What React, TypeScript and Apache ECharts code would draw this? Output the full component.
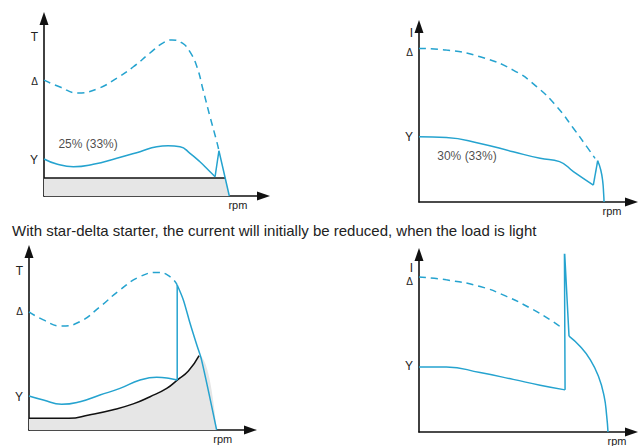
import React, { useEffect, useRef } from 'react';
import * as echarts from 'echarts';

// ---------- Data (normalised units: 0..100 along each axis) ----------
// Panel 1: torque, light load
const p1DeltaTorque = [[0, 63], [7.1, 59.2], [15, 56], [23.5, 58.2], [32.3, 64.1], [39.4, 70.1], [46.9, 77.7], [52.7, 83.2], [56.6, 84.8], [61.1, 83.2], [64.6, 78.3], [67.7, 70.1], [70.4, 57.6], [73.5, 42.9], [76.5, 29.3], [77.4, 24.6]];
const p1StarTorque = [[0, 20.1], [5.6, 17.4], [13, 15.9], [21.8, 17.2], [32.2, 20.5], [42.5, 24.1], [49.9, 26.8], [54.9, 27.3], [60.2, 26.8], [64.6, 23.2], [69, 18.6], [72.7, 14.1], [75.7, 10.5]];
const p1Switch = [[75.7, 10.5], [77.4, 24.6], [82, 0]];
const p1Load = [[0, 9.8], [80.2, 9.8]];
const p1LoadArea = [[0, 9.8], [80.2, 9.8], [82, 0]];
const p1Note = '25% (33%)';
const p1NotePos = [[19.5, 28.3]];

// Panel 2: current, light load
const p2DeltaCurrent = [[0, 84.4], [12.5, 83.5], [27.9, 79.8], [43, 72.5], [53.7, 63.4], [62.9, 52.4], [70.5, 40.5], [76.6, 30.4], [80.4, 24]];
const p2StarCurrent = [[0, 35.9], [12.5, 35.5], [27.9, 32.2], [43, 27.6], [55.3, 24], [64.2, 22.2], [70.5, 16.7], [79.6, 9.3]];
const p2Switch = [[79.6, 9.3], [81.6, 22.7]];
const p2After = [[81.6, 22.7], [83, 17.6], [83.9, 11.2], [84.3, 4.8], [84.5, 0]];
const p2Note = '30% (33%)';
const p2NotePos = [[21.9, 25.3]];

// Panel 3: torque, heavier load
const p3DeltaTorque = [[0, 63.9], [6.3, 59.5], [14.3, 56.2], [22.4, 58.6], [31.1, 66.6], [39.9, 75.7], [48.7, 82.9], [56.7, 85.2], [61.8, 82.9], [65, 78.4]];
const p3StarTorque = [[0, 18.4], [6.3, 16.2], [14.3, 13.9], [22.4, 15.3], [31.1, 18.9], [39.9, 22.5], [48.7, 27], [56, 28.5], [61.8, 27.9], [65, 27]];
const p3Switch = [[65, 27], [65, 78.4]];
const p3After = [[65, 78.4], [67.7, 70.3], [70.6, 57.8], [73.6, 45.9], [75.7, 37.8], [82.3, 0]];
const p3Load = [[0, 6.3], [17.5, 6.3], [26.3, 8.1], [36.5, 10.8], [45.7, 14.1], [53.1, 18], [60.4, 22.5], [65, 27], [69.9, 31.9], [74.6, 40.2]];
const p3LoadArea = [...p3Load, [82.3, 0]];

// Panel 4: current, heavier load
const p4DeltaCurrent = [[0, 84.2], [12.5, 82.7], [27.9, 79.1], [40, 73.7], [50.7, 67.4], [59.8, 61.1], [65.2, 56.6]];
const p4StarCurrent = [[0, 35.3], [12.5, 35.3], [27.9, 32.3], [43, 28.6], [55.3, 25.4], [66.7, 22.9]];
const p4Switch = [[66.7, 22.9], [66.4, 99.8], [68.5, 52.1]];
const p4After = [[68.5, 52.1], [73.5, 46.6], [78.1, 39.5], [81.9, 30.4], [84.5, 19.6], [85.7, 8.8], [86.3, 0]];

// Axis label values / texts
const torqueLabelValues = [86.4, 62.5, 19.6];
const torqueLabelTexts = ['T', 'Δ', 'Y'];
const p3LabelValues = [86, 63.8, 17.8];
const currentLabelValues = [92.9, 82.4, 35.7];
const currentLabelTexts = ['I', 'Δ', 'Y'];
const p4LabelValues = [89.2, 81.6, 35.7];
const rpmValues = [[85.8], [88.1], [85], [90.4]];
const rpmText = 'rpm';
const caption = 'With star-delta starter, the current will initially be reduced, when the load is light';

// ---------- Layout (pixels) ----------
// origin x, origin y, arrow tip x, arrow tip y
const panels = [
  { ox: 44, oy: 196, tx: 270, ty: 12 },
  { ox: 419, oy: 202, tx: 638, ty: 20 },
  { ox: 29, oy: 430, tx: 257, ty: 245 },
  { ox: 419, oy: 433, tx: 638, ty: 248 },
];
const ARROW_W = 9;
const ARROW_H = 13;
const BLUE = '#25a3cf';
const FONT = 'Liberation Sans, Arial, sans-serif';

export default function App() {
  const ref = useRef<HTMLDivElement>(null);
  useEffect(() => {
    if (!ref.current) return;
    const chart = echarts.init(ref.current, null, { renderer: 'svg' });
    const half = ARROW_H / 2;
    const grids = panels.map((p) => ({
      left: p.ox,
      top: p.ty + half,
      width: p.tx - half - p.ox,
      height: p.oy - p.ty - half,
      containLabel: false,
    }));
    const yLabelSets = [
      [torqueLabelValues, torqueLabelTexts],
      [currentLabelValues, currentLabelTexts],
      [p3LabelValues, torqueLabelTexts],
      [p4LabelValues, currentLabelTexts],
    ];
    const axisLine = {
      show: true,
      symbol: ['none', 'triangle'],
      symbolSize: [ARROW_W, ARROW_H],
      lineStyle: { color: '#111', width: 1.6 },
    };
    const xAxes = panels.map((p, i) => {
      const unit = (p.tx - p.ox) / 100;
      return {
        type: 'value',
        gridIndex: i,
        min: 0,
        max: 100 - half / unit,
        axisLine,
        axisTick: { show: false },
        splitLine: { show: false },
        axisLabel: {
          customValues: rpmValues[i],
          formatter: () => rpmText,
          margin: 3,
          fontSize: 11,
          color: '#222',
          fontFamily: FONT,
        },
      };
    });
    const yAxes = panels.map((p, i) => {
      const unit = (p.oy - p.ty) / 100;
      const [vals, texts] = yLabelSets[i] as [number[], string[]];
      return {
        type: 'value',
        gridIndex: i,
        min: 0,
        max: 100 - half / unit,
        axisLine,
        axisTick: { show: false },
        splitLine: { show: false },
        axisLabel: {
          customValues: vals,
          margin: 6,
          color: '#222',
          fontFamily: FONT,
          fontSize: 12,
          formatter: (v: number) => {
            let k = 0;
            vals.forEach((x, j) => { if (Math.abs(x - v) < Math.abs(vals[k] - v)) k = j; });
            const t = texts[k];
            return t === 'Δ' ? '{d|Δ}' : t;
          },
          rich: { d: { fontSize: 10, color: '#222', fontFamily: FONT } },
        },
      };
    });

    const line = (idx: number, data: number[][], opts: any = {}) => ({
      type: 'line',
      xAxisIndex: idx,
      yAxisIndex: idx,
      data,
      symbol: 'none',
      silent: true,
      lineStyle: { color: BLUE, width: 1.5, ...(opts.lineStyle || {}) },
      smooth: opts.smooth ?? false,
      z: opts.z ?? 3,
      ...(opts.areaStyle ? { areaStyle: opts.areaStyle } : {}),
    });
    const dashed = { type: [7, 5], width: 1.5, color: BLUE };
    const area = (idx: number, data: number[][]) =>
      line(idx, data, { lineStyle: { width: 0, opacity: 0 }, areaStyle: { color: '#e6e6e6', opacity: 1 }, z: 1, smooth: idx === 2 ? 0.5 : false });
    const note = (idx: number, pos: number[][], text: string) => ({
      type: 'scatter',
      xAxisIndex: idx,
      yAxisIndex: idx,
      data: pos,
      symbolSize: 1,
      silent: true,
      itemStyle: { color: 'rgba(0,0,0,0)' },
      label: { show: true, position: 'inside', formatter: text, color: '#1a1a1a', fontSize: 12, fontFamily: FONT },
    });

    const series = [
      // panel 1
      area(0, p1LoadArea),
      line(0, p1Load, { lineStyle: { color: '#111', width: 1.5 }, z: 2 }),
      line(0, p1DeltaTorque, { lineStyle: dashed, smooth: 0.5 }),
      line(0, p1StarTorque, { smooth: 0.5 }),
      line(0, p1Switch),
      note(0, p1NotePos, p1Note),
      // panel 2
      line(1, p2DeltaCurrent, { lineStyle: dashed, smooth: 0.5 }),
      line(1, p2StarCurrent, { smooth: 0.5 }),
      line(1, p2Switch),
      line(1, p2After, { smooth: 0.5 }),
      note(1, p2NotePos, p2Note),
      // panel 3
      area(2, p3LoadArea),
      line(2, p3Load, { lineStyle: { color: '#111', width: 1.5 }, smooth: 0.5, z: 2 }),
      line(2, p3DeltaTorque, { lineStyle: dashed, smooth: 0.5 }),
      line(2, p3StarTorque, { smooth: 0.5 }),
      line(2, p3Switch),
      line(2, p3After, { smooth: 0.3 }),
      // panel 4
      line(3, p4DeltaCurrent, { lineStyle: dashed, smooth: 0.5 }),
      line(3, p4StarCurrent, { smooth: 0.5 }),
      line(3, p4Switch),
      line(3, p4After, { smooth: 0.5 }),
    ];

    chart.setOption({
      animation: false,
      backgroundColor: '#ffffff',
      grid: grids,
      xAxis: xAxes,
      yAxis: yAxes,
      series,
      graphic: [
        {
          type: 'text',
          left: 12,
          top: 223,
          silent: true,
          style: { text: caption, fill: '#222', fontSize: 15, fontFamily: FONT },
        },
      ],
    });
    return () => chart.dispose();
  }, []);
  return <div ref={ref} style={{ width: 640, height: 446, position: 'fixed', left: 0, top: 0 }} />;
}
